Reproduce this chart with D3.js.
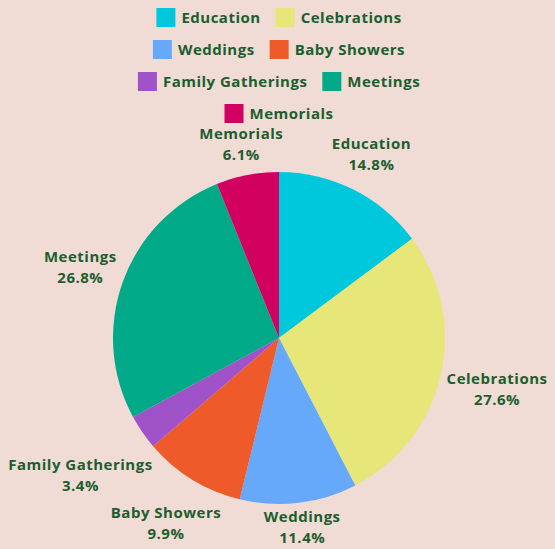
<!DOCTYPE html>
<html>
<head>
<meta charset="utf-8">
<script src="https://cdn.jsdelivr.net/npm/d3@7"></script>
<style>
  html, body { margin: 0; padding: 0; background: #f0dbd5; }
  svg { display: block; }
  text { font-family: "Open Sans", sans-serif; font-weight: 700; fill: #1d5e2f; letter-spacing: 0.5px; }
</style>
</head>
<body>
<div id="chart"></div>
<script>
const width = 555,
	height = 549;

// chart data
const categories = ['Education', 'Celebrations', 'Weddings', 'Baby Showers', 'Family Gatherings', 'Meetings', 'Memorials'];
const shares = [14.8, 27.6, 11.4, 9.9, 3.4, 26.8, 6.1];
const colors = ['#00c8dc', '#e6e679', '#66a8fa', '#ee5a2a', '#a052c8', '#00aa88', '#d20060'];

const cx = 279,
	cy = 338,
	radius = 166;

const data = categories.map((c, i) => ({ name: c, value: shares[i], color: colors[i] }));

const svg = d3
	.select('#chart')
	.append('svg')
	.attr('width', width)
	.attr('height', height);

// legend, wrapped into centered rows
const legend = svg.append('g').attr('class', 'legend');
const swatch = 19,
	swGap = 6,
	itemGap = 15,
	rowH = 32,
	maxRow = 310;

const items = legend
	.selectAll('g.item')
	.data(data)
	.enter()
	.append('g')
	.attr('class', 'item');

items.append('rect').attr('width', swatch).attr('height', swatch).attr('fill', (d) => d.color);
items
	.append('text')
	.attr('x', swatch + swGap)
	.attr('y', swatch / 2)
	.attr('dy', '0.36em')
	.style('font-size', '15px')
	.text((d) => d.name);

const rows = [];
let current = [];
let rowW = 0;
items.each(function(d) {
	const w = swatch + swGap + d3.select(this).select('text').node().getBBox().width;
	const extra = current.length ? itemGap + w : w;
	if (current.length && rowW + extra > maxRow) {
		rows.push({ nodes: current, w: rowW });
		current = [];
		rowW = 0;
	}
	current.push({ node: this, w: w });
	rowW += current.length > 1 ? itemGap + w : w;
});
if (current.length) rows.push({ nodes: current, w: rowW });

rows.forEach((row, r) => {
	let x = cx - row.w / 2;
	row.nodes.forEach((it) => {
		d3.select(it.node).attr('transform', 'translate(' + x + ',' + (8 + r * rowH) + ')');
		x += it.w + itemGap;
	});
});

// pie
const pie = d3.pie().sort(null).value((d) => d.value);
const arc = d3.arc().innerRadius(0).outerRadius(radius);
const arcs = pie(data);

const g = svg.append('g').attr('transform', 'translate(' + cx + ',' + cy + ')');

g
	.selectAll('path')
	.data(arcs)
	.enter()
	.append('path')
	.attr('d', arc)
	.attr('fill', (d) => d.data.color);

// outside labels: box pushed out so its nearest edge sits just past the rim
const labels = g
	.selectAll('text.label')
	.data(arcs)
	.enter()
	.append('text')
	.attr('class', 'label')
	.attr('text-anchor', 'middle')
	.style('font-size', '15px');

labels.append('tspan').attr('x', 0).attr('dy', '-0.2em').text((d) => d.data.name);
labels.append('tspan').attr('x', 0).attr('dy', '1.4em').text((d) => d.data.value.toFixed(1) + '%');

labels.each(function(d) {
	const el = d3.select(this);
	const box = this.getBBox();
	const mid = (d.startAngle + d.endAngle) / 2;
	const s = Math.sin(mid),
		c = Math.cos(mid);
	const ext = box.width / 2 * Math.abs(s) + box.height / 2 * Math.abs(c);
	const r = radius + 4 + ext;
	const bx = box.x + box.width / 2,
		by = box.y + box.height / 2;
	let tx = r * s - bx,
		ty = -r * c - by;
	// keep the box inside the page
	const maxBottom = height - 2 - cy;
	if (ty + box.y + box.height > maxBottom) ty = maxBottom - box.y - box.height;
	el.attr('transform', 'translate(' + tx + ',' + ty + ')');
});
</script>
</body>
</html>
